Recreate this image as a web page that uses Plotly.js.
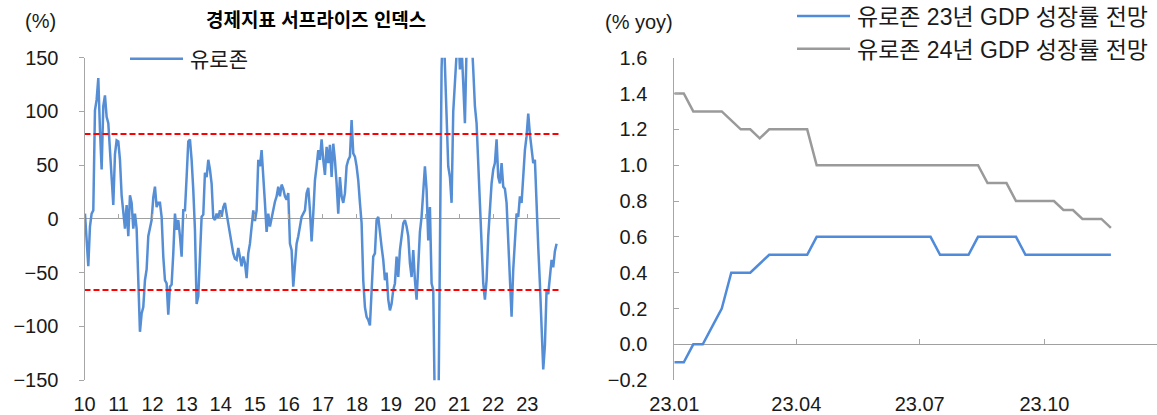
<!DOCTYPE html>
<html>
<head>
<meta charset="utf-8">
<script src="https://cdn.plot.ly/plotly-3.0.1.min.js"></script>
<style>
  html, body { margin: 0; padding: 0; background: #ffffff; }
  #chart { width: 1157px; height: 415px; }
</style>
</head>
<body>
<div id="chart"></div>
<script>
// ---- Eurozone economic surprise index (%), one reading every ~17.9 days ----
const surpriseStart = '2010-01-06';
const surpriseStepDays = 17.87;
const surpriseValues = [
  5, -18, -44, -7, 5, 8, 101, 111, 131, 83,
  46, 105, 115, 95, 89, 64, 33, 13, 60, 73,
  72, 55, 22, 6, -9, 13, -16, 22, 15, -9,
  5, -9, -55, -105, -88, -82, -57, -47, -16, -7,
  -1, 20, 30, 11, 15, 15, 2, -35, -57, -60,
  -89, -63, -61, -32, 5, -10, -1, -16, -35, 8,
  8, 39, 72, 74, 55, 27, -10, -79, -72, -35,
  2, 4, 43, 39, 55, 46, 33, 1, -1, 5,
  1, 8, 2, 11, 15, 5, -4, -13, -26, -32,
  -37, -38, -27, -35, -44, -35, -41, -55, -32, -23,
  -4, 8, -2, 8, 55, 49, 64, 43, 15, -12,
  5, -7, 2, 11, 16, 21, 30, 21, 32, 28,
  21, 18, 24, -23, -29, -63, -38, -23, -16, -7,
  2, 5, 8, 24, 29, 8, -21, 5, 36, 49,
  64, 55, 74, 55, 41, 67, 52, 69, 39, 70,
  55, 33, 5, 39, 21, 15, 24, 49, 55, 58,
  92, 61, 58, 49, 36, 15, -4, -57, -82, -91,
  -94, -99, -66, -35, -32, -1, 2, -16, -26, -38,
  -57, -50, -75, -85, -79, -66, -60, -35, -54, -29,
  -16, -4, -1, -7, -16, -41, -54, -29, -57, -75,
  -44, -12, 2, 27, 49, 27, -20, 11, -60, -66,
  -220, -300, -200, -60, 140, 190, 135, 95, 49, 39,
  15, 100, 126, 170, 180, 139, 160, 126, 89, 160,
  180, 160, 170, 139, 105, 89, 55, 18, -20, -60,
  -75, -57, -16, 8, 33, 46, 52, 74, 39, 33,
  52, 30, 28, 15, -20, -54, -91, -47, -16, 5,
  2, 21, 15, 39, 64, 77, 98, 79, 64, 52,
  55, 8, -26, -60, -100, -140, -118, -66, -70, -50,
  -38, -45, -30, -23
];
// upper / lower reference levels (dashed red)
const surpriseBands = [79, -66];
const surpriseRange = ['2010-01-01', '2023-12-18'];
const surpriseYRange = [-150, 150];

// ---- Eurozone GDP growth consensus (% yoy), weekly from 2023-01-01 ----
const forecastStart = '2023-01-01';
const forecastStepDays = 7;
const gdp2023 = [
  -0.1, -0.1, 0.0, 0.0, 0.1, 0.2, 0.4, 0.4, 0.4, 0.45,
  0.5, 0.5, 0.5, 0.5, 0.5, 0.6, 0.6, 0.6, 0.6, 0.6,
  0.6, 0.6, 0.6, 0.6, 0.6, 0.6, 0.6, 0.6, 0.5, 0.5,
  0.5, 0.5, 0.6, 0.6, 0.6, 0.6, 0.6, 0.5, 0.5, 0.5,
  0.5, 0.5, 0.5, 0.5, 0.5, 0.5, 0.5
];
const gdp2024 = [
  1.4, 1.4, 1.3, 1.3, 1.3, 1.3, 1.25, 1.2, 1.2, 1.15,
  1.2, 1.2, 1.2, 1.2, 1.2, 1.0, 1.0, 1.0, 1.0, 1.0,
  1.0, 1.0, 1.0, 1.0, 1.0, 1.0, 1.0, 1.0, 1.0, 1.0,
  1.0, 1.0, 1.0, 0.9, 0.9, 0.9, 0.8, 0.8, 0.8, 0.8,
  0.8, 0.75, 0.75, 0.7, 0.7, 0.7, 0.65
];
const forecastRange = ['2023-01-01', '2023-12-23'];
const forecastYRange = [-0.2, 1.6];

const seriesNames = {
  surprise: '유로존',
  gdp2023: '유로존 23년 GDP 성장률 전망',
  gdp2024: '유로존 24년 GDP 성장률 전망'
};

// ---- helpers ----
function dateSeries(start, stepDays, n) {
  const t0 = Date.parse(start + 'T00:00:00Z');
  const out = [];
  for (let i = 0; i < n; i++) {
    const d = new Date(t0 + i * stepDays * 86400000);
    out.push(d.toISOString().slice(0, 19).replace('T', ' '));
  }
  return out;
}

const W = 1157, H = 415;
const FONT = "'Liberation Sans', 'Noto Sans CJK KR', sans-serif";
const TXT = '#1a1a1a';
const AXIS = '#a6a6a6';

// plot areas in pixels -> paper fractions
const leftDom = [84.5 / W, 560 / W];
const rightDom = [674.3 / W, 1];
const yDom = [(H - 380.2) / H, (H - 57.7) / H];
// vertical paper position of the value 0 inside each panel
function zeroPos(r) {
  return yDom[0] + (0 - r[0]) / (r[1] - r[0]) * (yDom[1] - yDom[0]);
}

const surpriseX = dateSeries(surpriseStart, surpriseStepDays, surpriseValues.length);
const forecastX = dateSeries(forecastStart, forecastStepDays, gdp2023.length);

const traces = [
  {
    x: surpriseX, y: surpriseValues, xaxis: 'x', yaxis: 'y',
    type: 'scatter', mode: 'lines', name: seriesNames.surprise,
    line: { color: '#558ED5', width: 2.5 }, legend: 'legend', hoverinfo: 'x+y'
  }
];
surpriseBands.forEach(function (v) {
  traces.push({
    x: surpriseRange, y: [v, v], xaxis: 'x3', yaxis: 'y',
    type: 'scatter', mode: 'lines', showlegend: false,
    line: { color: '#ff0000', width: 2, dash: '6px,3px' }, hoverinfo: 'y'
  });
});
traces.push({
  x: forecastX, y: gdp2023, xaxis: 'x2', yaxis: 'y2',
  type: 'scatter', mode: 'lines', name: seriesNames.gdp2023,
  line: { color: '#4F8BDA', width: 2.5 }, legend: 'legend2'
});
traces.push({
  x: forecastX, y: gdp2024, xaxis: 'x4', yaxis: 'y2',
  type: 'scatter', mode: 'lines', name: seriesNames.gdp2024,
  line: { color: '#9A9A9A', width: 2.5 }, legend: 'legend2'
});

const tickFont = { family: FONT, size: 20, color: TXT };

const layout = {
  width: W, height: H,
  margin: { l: 0, r: 0, t: 0, b: 0, autoexpand: false },
  paper_bgcolor: '#ffffff', plot_bgcolor: 'rgba(0,0,0,0)',
  font: { family: FONT, color: TXT },
  showlegend: true,
  // left panel: year labels under the plot
  xaxis: {
    domain: leftDom, anchor: 'y', type: 'date', range: surpriseRange,
    tick0: '2010-01-01', dtick: 'M12', tickformat: '%y',
    ticks: '', showline: false, zeroline: false, showgrid: false,
    tickfont: tickFont, ticklabelstandoff: 10, fixedrange: true
  },
  // left panel: year tick marks on the zero line
  xaxis3: {
    overlaying: 'x', anchor: 'free', position: zeroPos(surpriseYRange),
    type: 'date', range: surpriseRange, tick0: '2010-01-01', dtick: 'M12',
    ticks: 'inside', ticklen: 5, tickwidth: 1, tickcolor: AXIS,
    showticklabels: false, showline: false, zeroline: false, showgrid: false
  },
  yaxis: {
    domain: yDom, anchor: 'x', range: surpriseYRange, dtick: 50,
    ticks: 'outside', ticklen: 5, tickwidth: 1, tickcolor: AXIS,
    showline: true, linecolor: AXIS, linewidth: 1,
    zeroline: true, zerolinecolor: '#a0a0a0', zerolinewidth: 1,
    showgrid: false, tickfont: tickFont, ticklabelstandoff: 16
  },
  // right panel
  xaxis2: {
    domain: rightDom, anchor: 'y2', type: 'date', range: forecastRange,
    tick0: '2023-01-01', dtick: 'M3', tickformat: '%y.%m',
    ticks: '', showline: false, zeroline: false, showgrid: false,
    tickfont: tickFont, ticklabelstandoff: 10
  },
  xaxis4: {
    overlaying: 'x2', anchor: 'free', position: zeroPos(forecastYRange),
    type: 'date', range: forecastRange, tick0: '2023-01-01', dtick: 'M3',
    ticks: 'inside', ticklen: 5, tickwidth: 1, tickcolor: AXIS,
    showticklabels: false, showline: false, zeroline: false, showgrid: false
  },
  yaxis2: {
    domain: yDom, anchor: 'x2', range: forecastYRange, dtick: 0.2, tickformat: '.1f',
    ticks: 'inside', ticklen: 5, tickwidth: 1, tickcolor: AXIS,
    showline: true, linecolor: AXIS, linewidth: 1,
    zeroline: true, zerolinecolor: '#a0a0a0', zerolinewidth: 1,
    showgrid: false, tickfont: tickFont, ticklabelstandoff: 22
  },
  legend: {
    x: 125 / W, y: (H - 59) / H, xanchor: 'left', yanchor: 'middle',
    bgcolor: 'rgba(0,0,0,0)', borderwidth: 0, itemwidth: 55,
    font: { family: FONT, size: 21, color: TXT }
  },
  legend2: {
    x: 792 / W, y: (H - 32.5) / H, xanchor: 'left', yanchor: 'middle',
    bgcolor: 'rgba(0,0,0,0)', borderwidth: 0, tracegroupgap: 0, itemwidth: 55,
    font: { family: FONT, size: 23, color: TXT }
  },
  annotations: [
    {
      text: '<b>경제지표 서프라이즈 인덱스</b>', xref: 'paper', yref: 'paper',
      x: 316 / W, y: (H - 20) / H, xanchor: 'center', yanchor: 'middle',
      showarrow: false, font: { family: FONT, size: 19, color: '#000000' }
    },
    {
      text: '(%)', xref: 'paper', yref: 'paper',
      x: 23 / W, y: (H - 21) / H, xanchor: 'left', yanchor: 'middle',
      showarrow: false, font: { family: FONT, size: 20, color: TXT }
    },
    {
      text: '(% yoy)', xref: 'paper', yref: 'paper',
      x: 603 / W, y: (H - 22) / H, xanchor: 'left', yanchor: 'middle',
      showarrow: false, font: { family: FONT, size: 20, color: TXT }
    }
  ]
};

Plotly.newPlot('chart', traces, layout, { displayModeBar: false, staticPlot: true })
  .then(function () {
    // longer legend keys, filling the widened symbol area
    document.querySelectorAll('#chart .legendlines path').forEach(function (p) {
      p.setAttribute('d', 'M5,0h53');
    });
  });
</script>
</body>
</html>
